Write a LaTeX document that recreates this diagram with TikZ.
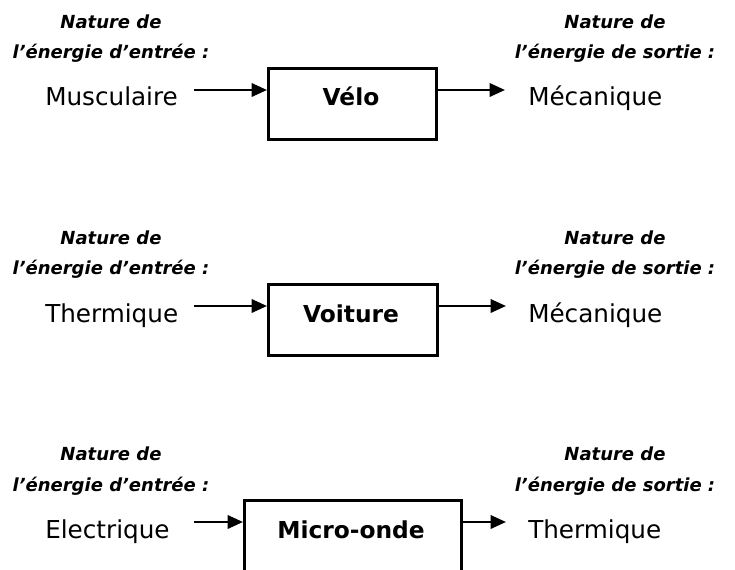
\documentclass[tikz,border=0pt]{standalone}
\usepackage{fontspec}
\setmainfont{DejaVu Sans}
\usetikzlibrary{arrows.meta, positioning}

\begin{document}
\begin{tikzpicture}[x=0.75pt, y=-0.75pt,
    titre/.style={font=\fontsize{13.5}{23}\selectfont\bfseries\itshape, align=center, anchor=base},
    energie/.style={font=\fontsize{18.5}{22}\selectfont, inner sep=0pt},
    machine/.style={draw, line width=2pt, minimum height=53.25pt, anchor=north west, inner sep=0pt},
    nom/.style={font=\fontsize{17.5}{20}\selectfont\bfseries, anchor=base, inner sep=0pt},
    fleche/.style={line width=1.8pt, -{Triangle[length=11.5pt, width=10pt]}}]

        % fix the page to the size of the reference
        \useasboundingbox (0,0) rectangle (735,570);

        % first row: the bike
        \node[titre] (te1) at (111,59) {Nature de\\l'énergie d'entrée :};
        \node[titre] (ts1) at (615,59) {Nature de\\l'énergie de sortie :};
        \node[energie, anchor=base west] (e1) at (45,106) {Musculaire};
        \node[machine, minimum width=126pt] (m1) at (267,67) {};
        \node[nom] (n1) at (351,106) {Vélo};
        \node[energie, anchor=base west] (s1) at (528,106) {Mécanique};
        \coordinate (a1) at (194,90);
        \coordinate (b1) at (505,90);
        \draw[fleche] (a1) -- (a1 -| m1.west);
        \draw[fleche] (b1 -| m1.east) -- (b1);

        % second row: the car
        \node[titre] (te2) at (111,275) {Nature de\\l'énergie d'entrée :};
        \node[titre] (ts2) at (615,275) {Nature de\\l'énergie de sortie :};
        \node[energie, anchor=base west] (e2) at (45,322) {Thermique};
        \node[machine, minimum width=126.75pt] (m2) at (267,283) {};
        \node[nom] (n2) at (351,322) {Voiture};
        \node[energie, anchor=base west] (s2) at (528,322) {Mécanique};
        \coordinate (a2) at (194,306);
        \coordinate (b2) at (506,306);
        \draw[fleche] (a2) -- (a2 -| m2.west);
        \draw[fleche] (b2 -| m2.east) -- (b2);

        % third row: the microwave oven
        \node[titre] (te3) at (111,491) {Nature de\\l'énergie d'entrée :};
        \node[titre] (ts3) at (615,491) {Nature de\\l'énergie de sortie :};
        \node[energie, anchor=base west] (e3) at (45,538) {Electrique};
        \node[machine, minimum width=162.75pt] (m3) at (243,499) {};
        \node[nom] (n3) at (351,538) {Micro-onde};
        \node[energie, anchor=base west] (s3) at (528,538) {Thermique};
        \coordinate (a3) at (194,522);
        \coordinate (b3) at (506,522);
        \draw[fleche] (a3) -- (a3 -| m3.west);
        \draw[fleche] (b3 -| m3.east) -- (b3);
\end{tikzpicture}
\end{document}
